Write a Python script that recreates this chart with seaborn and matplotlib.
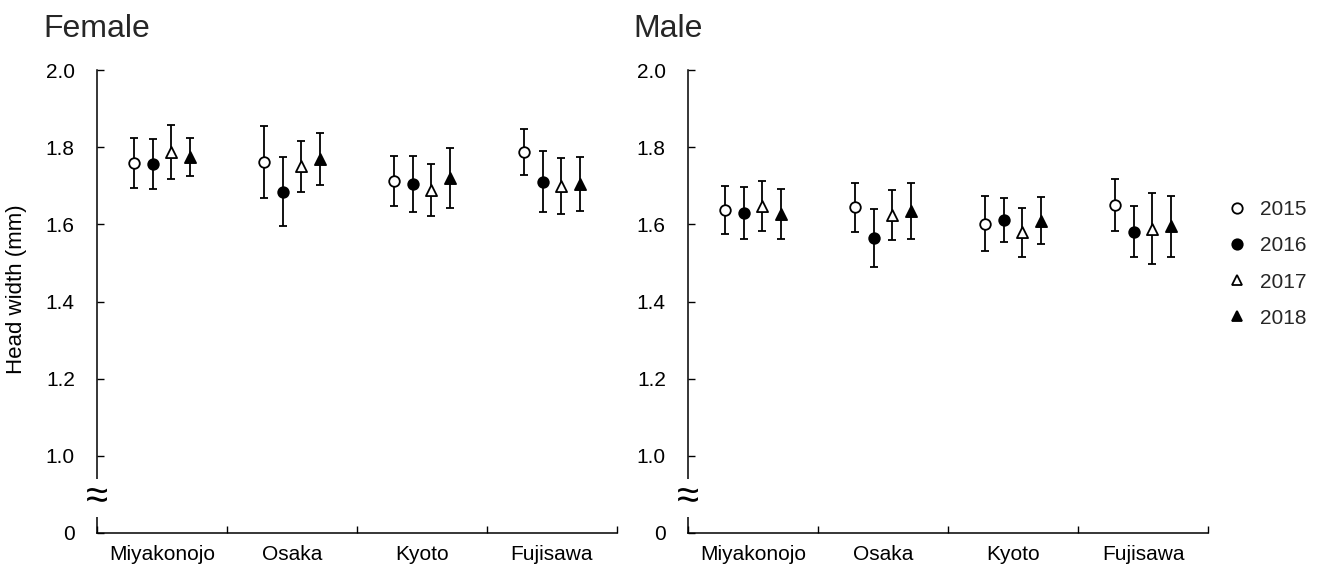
import numpy as np
import pandas as pd
import seaborn as sns
from matplotlib import pyplot as plt
from matplotlib.lines import Line2D
from matplotlib import transforms

sites = ["Miyakonojo", "Osaka", "Kyoto", "Fujisawa"]
years = ["2015", "2016", "2017", "2018"]

# mean head width (mm), rows = years, columns = sites
female_mean = [
    [1.758, 1.762, 1.713, 1.787],
    [1.757, 1.685, 1.705, 1.711],
    [1.787, 1.750, 1.689, 1.699],
    [1.775, 1.770, 1.721, 1.705],
]
female_sd = [
    [0.065, 0.093, 0.065, 0.059],
    [0.065, 0.090, 0.072, 0.079],
    [0.070, 0.067, 0.068, 0.072],
    [0.050, 0.068, 0.078, 0.070],
]
male_mean = [
    [1.637, 1.644, 1.602, 1.650],
    [1.629, 1.565, 1.611, 1.581],
    [1.648, 1.625, 1.579, 1.589],
    [1.627, 1.635, 1.609, 1.595],
]
male_sd = [
    [0.063, 0.064, 0.071, 0.068],
    [0.068, 0.076, 0.058, 0.066],
    [0.065, 0.065, 0.063, 0.093],
    [0.064, 0.073, 0.061, 0.079],
]

y_ticks = [0.8, 1.0, 1.2, 1.4, 1.6, 1.8, 2.0]
y_ticklabels = ["0", "1.0", "1.2", "1.4", "1.6", "1.8", "2.0"]

# build long table
rows = []
for sex, means, sds in [("Female", female_mean, female_sd), ("Male", male_mean, male_sd)]:
    for i, yr in enumerate(years):
        for j, site in enumerate(sites):
            rows.append({"sex": sex, "year": yr, "site": site, "site_idx": j,
                         "mean": means[i][j], "sd": sds[i][j]})
df = pd.DataFrame(rows)

sns.set_theme(style="ticks")
plt.rcParams['font.family'] = ['Liberation Sans', 'DejaVu Sans']

styles = {
    "2015": dict(marker="o", face="white", s=58),
    "2016": dict(marker="o", face="black", s=58),
    "2017": dict(marker="^", face="white", s=64),
    "2018": dict(marker="^", face="black", s=64),
}
offsets = {"2015": -0.213, "2016": -0.071, "2017": 0.071, "2018": 0.213}

fig = plt.figure(figsize=(13.2, 5.68), dpi=100)
ax_f = fig.add_axes([97 / 1320, 1 - 533 / 568, 520 / 1320, 463 / 568])
ax_m = fig.add_axes([688 / 1320, 1 - 533 / 568, 520 / 1320, 463 / 568])

for ax, sex in [(ax_f, "Female"), (ax_m, "Male")]:
    sub = df[df["sex"] == sex]
    for yr in years:
        g = sub[sub["year"] == yr]
        x = g["site_idx"] + offsets[yr]
        ax.errorbar(x, g["mean"], yerr=g["sd"], fmt="none", ecolor="black",
                    elinewidth=1.3, capsize=3, capthick=1.3, zorder=2)
        st = styles[yr]
        sns.scatterplot(x=x, y=g["mean"], marker=st["marker"], s=st["s"],
                        color=st["face"], edgecolor="black", linewidth=1.3,
                        ax=ax, zorder=3, legend=False)

    ax.set_xlim(-0.5, 3.5)
    ax.set_ylim(0.8, 2.0)
    ax.set_yticks(y_ticks)
    ax.set_yticklabels(y_ticklabels)
    ax.set_xticks(range(len(sites)))
    ax.set_xticklabels(sites)
    ax.set_xticks([-0.5, 0.5, 1.5, 2.5, 3.5], minor=True)
    ax.tick_params(axis="x", which="major", length=0, pad=9, labelsize=15, colors="black")
    ax.tick_params(axis="x", which="minor", direction="in", length=5, width=1, color="black")
    ax.tick_params(axis="y", direction="in", length=5, width=1, pad=16, labelsize=15,
                   colors="black")
    ax.set_xlabel("")
    ax.set_ylabel("")
    sns.despine(ax=ax)
    for sp in ["left", "bottom"]:
        ax.spines[sp].set_color("black")
        ax.spines[sp].set_linewidth(1.1)

    # axis break mark
    trans = transforms.blended_transform_factory(ax.transAxes, ax.transData)
    ax.text(0, 0.892, "\u2248", transform=trans, ha="center", va="center",
            fontsize=29, color="black", zorder=5, clip_on=False,
            bbox=dict(fc="white", ec="none", pad=0))

ax_f.set_ylabel("Head width (mm)", fontsize=16, color="black")
ax_f.yaxis.set_label_coords(-0.135, 0.527)

fig.text(43 / 1320, 1 - 37 / 568, "Female", fontsize=23, va="baseline")
fig.text(633 / 1320, 1 - 37 / 568, "Male", fontsize=23, va="baseline")

handles = [Line2D([], [], marker=styles[yr]["marker"], linestyle="none",
                  markerfacecolor=styles[yr]["face"], markeredgecolor="black",
                  markeredgewidth=1.3, markersize=7.5) for yr in years]
fig.legend(handles, years, loc="center left", bbox_to_anchor=(1227 / 1320, 1 - 264 / 568),
           frameon=False, fontsize=15, handlelength=1.0, handletextpad=0.6,
           labelspacing=0.82, borderpad=0, borderaxespad=0)

fig.savefig("out.png", dpi=100)
